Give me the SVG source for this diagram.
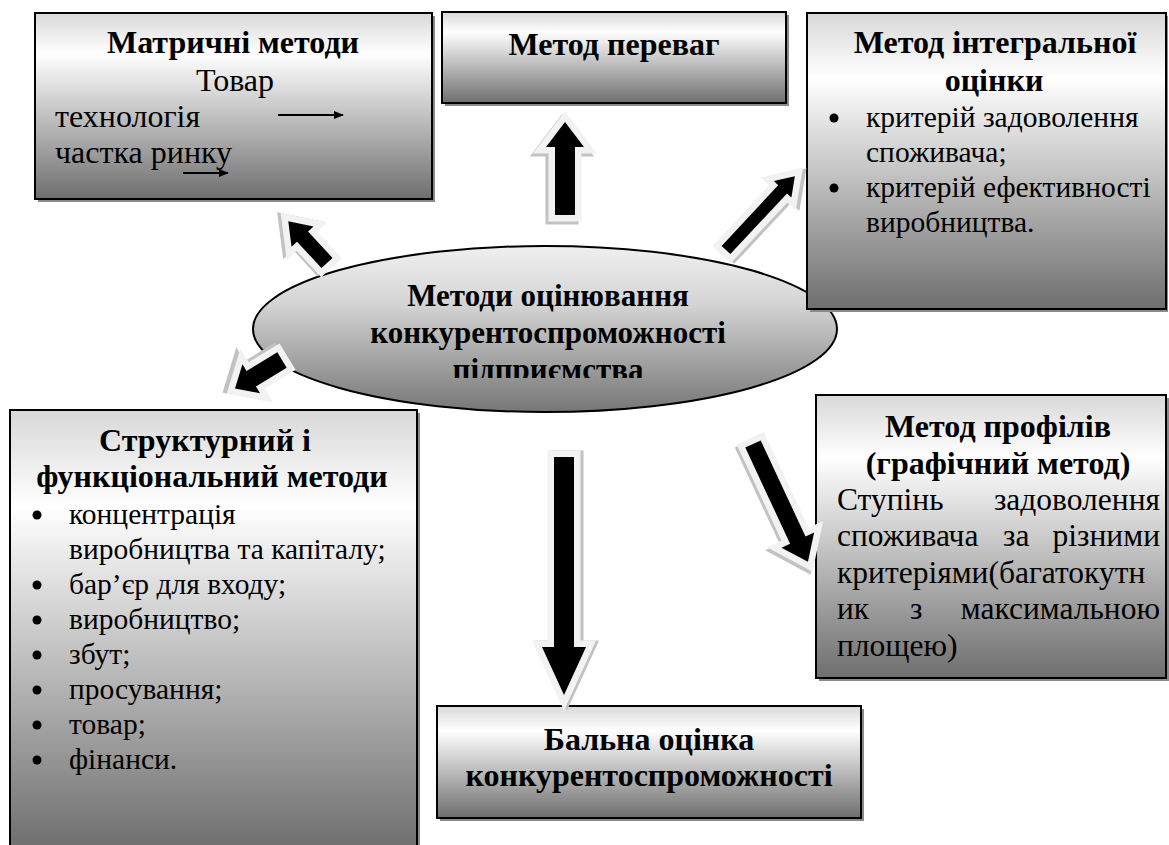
<svg xmlns="http://www.w3.org/2000/svg" width="1169" height="845" viewBox="0 0 1169 845" font-family="'Liberation Serif', 'DejaVu Serif', 'Times New Roman', Times, serif">
<style>
.t{font-size:29.5px;fill:#000}
.r32{font-size:32px}
.r31{font-size:31.5px}
.b{font-weight:bold;font-size:32px}
.be{font-weight:bold;font-size:31px}
.m{text-anchor:middle}
.e{text-anchor:end}
.box{fill:url(#gBox);stroke:#000;stroke-width:2}
.sh{fill:#8a8a8a}
.ao{fill:#f2f2f2;stroke:#f2f2f2;stroke-width:13;stroke-linejoin:miter;stroke-miterlimit:6}
.as{fill:#c2c2c2;stroke:#c2c2c2;stroke-width:13;stroke-linejoin:miter;stroke-miterlimit:6}
.ab{fill:#000}
</style>
<defs>
<linearGradient id="gBox" x1="0" y1="0" x2="0" y2="1">
<stop offset="0" stop-color="#d8d8d8"/>
<stop offset="0.22" stop-color="#ffffff"/>
<stop offset="1" stop-color="#6e6e6e"/>
</linearGradient>
<linearGradient id="gEll" x1="0" y1="0" x2="0" y2="1">
<stop offset="0" stop-color="#f0f0f0"/>
<stop offset="0.35" stop-color="#d4d4d4"/>
<stop offset="1" stop-color="#767676"/>
</linearGradient>
<marker id="mh" markerWidth="10" markerHeight="8" refX="9" refY="4" orient="auto" markerUnits="userSpaceOnUse">
<path d="M0,0 L10,4 L0,8 Z" fill="#000"/>
</marker>
<clipPath id="clipE"><rect x="250" y="240" width="600" height="138"/></clipPath>
</defs>
<rect width="1169" height="845" fill="#fff"/>

<g id="center">
<ellipse cx="545" cy="329" rx="292" ry="83" fill="url(#gEll)" stroke="#000" stroke-width="2"/>
<g clip-path="url(#clipE)">
<text class="t be m" x="548" y="306">Методи оцінювання</text>
<text class="t be m" x="548" y="343">конкурентоспроможності</text>
<text class="t be m" x="548" y="380">підприємства</text>
</g>
</g>

<g id="matrix">
<rect class="sh" x="38" y="16" width="397" height="186"/>
<rect class="box" x="35" y="13" width="397" height="186"/>
<text class="t b m" x="233" y="53">Матричні методи</text>
<text class="t r32 m" x="235" y="91">Товар</text>
<text class="t r32" x="55" y="127">технологія</text>
<line x1="278" y1="115" x2="343" y2="115" stroke="#000" stroke-width="2" marker-end="url(#mh)"/>
<text class="t r32" x="55" y="163">частка ринку</text>
<line x1="183" y1="173" x2="228" y2="173" stroke="#000" stroke-width="2" marker-end="url(#mh)"/>
</g>

<g id="perevag">
<rect class="sh" x="445" y="15" width="344" height="91"/>
<rect class="box" x="442" y="12" width="344" height="91"/>
<text class="t b m" x="614" y="55">Метод переваг</text>
</g>

<g id="integral">
<rect class="sh" x="810" y="16" width="358" height="296"/>
<rect class="box" x="807" y="13" width="359" height="296"/>
<text class="t b m" x="995" y="53">Метод інтегральної</text>
<text class="t b m" x="994" y="91">оцінки</text>
<circle cx="834" cy="118" r="4.5"/>
<text class="t" x="866" y="127">критерій задоволення</text>
<text class="t" x="866" y="162">споживача;</text>
<circle cx="834" cy="188" r="4.5"/>
<text class="t" x="866" y="197">критерій ефективності</text>
<text class="t" x="866" y="232">виробництва.</text>
</g>

<g id="struct">
<rect class="sh" x="13" y="413" width="407" height="440"/>
<rect class="box" x="10" y="410" width="407" height="440"/>
<text class="t b m" x="205" y="451">Структурний і</text>
<text class="t b m" x="212" y="487">функціональний методи</text>
<circle cx="37" cy="515" r="4.5"/>
<text class="t" x="69" y="524">концентрація</text>
<text class="t" x="69" y="559">виробництва та капіталу;</text>
<circle cx="37" cy="585" r="4.5"/>
<text class="t" x="69" y="594">бар’єр для входу;</text>
<circle cx="37" cy="620" r="4.5"/>
<text class="t" x="69" y="629">виробництво;</text>
<circle cx="37" cy="655" r="4.5"/>
<text class="t" x="69" y="664">збут;</text>
<circle cx="37" cy="690" r="4.5"/>
<text class="t" x="69" y="699">просування;</text>
<circle cx="37" cy="725" r="4.5"/>
<text class="t" x="69" y="734">товар;</text>
<circle cx="37" cy="760" r="4.5"/>
<text class="t" x="69" y="769">фінанси.</text>
</g>

<g id="profile">
<rect class="sh" x="819" y="398" width="350" height="283"/>
<rect class="box" x="816" y="395" width="350" height="283"/>
<text class="t b m" x="998" y="437">Метод профілів</text>
<text class="t b m" x="998" y="474">(графічний метод)</text>
<text class="t r31" x="837" y="510">Ступінь</text>
<text class="t r31 e" x="1160" y="510">задоволення</text>
<text class="t r31" x="837" y="546">споживача</text>
<text class="t r31" x="1003" y="546">за</text>
<text class="t r31 e" x="1160" y="546">різними</text>
<text class="t r31" x="837" y="583">критеріями(багатокутн</text>
<text class="t r31" x="837" y="619">ик</text>
<text class="t r31" x="910" y="619">з</text>
<text class="t r31 e" x="1160" y="619">максимальною</text>
<text class="t r31" x="837" y="656">площею)</text>
</g>

<g id="ball">
<rect class="sh" x="440" y="709" width="424" height="112"/>
<rect class="box" x="437" y="706" width="424" height="112"/>
<text class="t b m" x="649" y="750">Бальна оцінка</text>
<text class="t b m" x="649" y="786">конкурентоспроможності</text>
</g>

<g id="connectors">
<g transform="translate(565,215) rotate(-90)">
<polygon class="as" transform="translate(-3,-3)" points="0,-10 68,-10 68,-19 93,0 68,19 68,10 0,10"/>
<polygon class="ao" points="0,-10 68,-10 68,-19 93,0 68,19 68,10 0,10"/>
<polygon class="ab" points="0,-10 68,-10 68,-19 93,0 68,19 68,10 0,10"/>
</g>
<g transform="translate(726,250) rotate(-47)">
<polygon class="as" transform="translate(2,3)" points="0,-6 83,-6 83,-12 101,0 83,12 83,6 0,6"/>
<polygon class="ao" points="0,-6 83,-6 83,-12 101,0 83,12 83,6 0,6"/>
<polygon class="ab" points="0,-6 83,-6 83,-12 101,0 83,12 83,6 0,6"/>
</g>
<g transform="translate(327,263) rotate(-132.8)">
<polygon class="as" transform="translate(3,-2)" points="0,-7.5 36,-7.5 36,-15 57,0 36,15 36,7.5 0,7.5"/>
<polygon class="ao" points="0,-7.5 36,-7.5 36,-15 57,0 36,15 36,7.5 0,7.5"/>
<polygon class="ab" points="0,-7.5 36,-7.5 36,-15 57,0 36,15 36,7.5 0,7.5"/>
</g>
<g transform="translate(282,360) rotate(148.7)">
<polygon class="as" transform="translate(3,3)" points="0,-9 36,-9 36,-17 55,0 36,17 36,9 0,9"/>
<polygon class="ao" points="0,-9 36,-9 36,-17 55,0 36,17 36,9 0,9"/>
<polygon class="ab" points="0,-9 36,-9 36,-17 55,0 36,17 36,9 0,9"/>
</g>
<g transform="translate(564,457) rotate(90)">
<polygon class="as" transform="translate(0,-3)" points="0,-10 190,-10 190,-22 238,0 190,22 190,10 0,10"/>
<polygon class="ao" points="0,-10 190,-10 190,-22 238,0 190,22 190,10 0,10"/>
<polygon class="ab" points="0,-10 190,-10 190,-22 238,0 190,22 190,10 0,10"/>
</g>
<g transform="translate(753,444) rotate(65)">
<polygon class="as" transform="translate(2,3)" points="0,-8.5 106,-8.5 106,-18 130,0 106,18 106,8.5 0,8.5"/>
<polygon class="ao" points="0,-8.5 106,-8.5 106,-18 130,0 106,18 106,8.5 0,8.5"/>
<polygon class="ab" points="0,-8.5 106,-8.5 106,-18 130,0 106,18 106,8.5 0,8.5"/>
</g>
</g>
</svg>
